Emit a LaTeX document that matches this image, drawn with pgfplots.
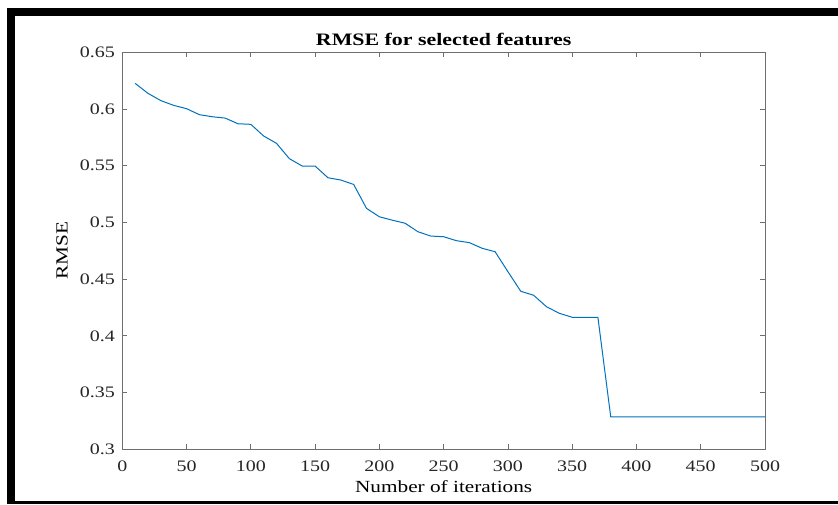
\documentclass[border=0pt]{standalone}
\usepackage{pgfplots}
\pgfplotsset{compat=1.18}
\usepackage{fontspec}
\setmainfont[FakeStretch=1.25]{Liberation Serif}
\definecolor{mblue}{rgb}{0,0.447,0.741}
\definecolor{axgray}{RGB}{110,110,110}
\begin{document}
\begin{tikzpicture}
\useasboundingbox (0,0) rectangle (838pt,504pt);
\fill[white] (0,0) rectangle (838pt,504pt);
\begin{axis}[
  at={(122.3pt,54.7pt)}, anchor=south west,
  scale only axis, width=642.7pt, height=397pt,
  xmin=0, xmax=500, ymin=0.3, ymax=0.65,
  xtick={0,50,...,500},
  ytick={0.3,0.35,0.4,0.45,0.5,0.55,0.6,0.65},
  yticklabels={0.3,0.35,0.4,0.45,0.5,0.55,0.6,0.65},
  tick align=inside, major tick length=5pt,
  axis line style={axgray, line width=0.8pt},
  every tick/.style={axgray, line width=0.8pt},
  /pgf/number format/assume math mode=true,
  ticklabel style={font=\fontsize{16}{18}\selectfont, text=black!85},
  xticklabel style={yshift=-8pt},
  yticklabel style={xshift=-4pt},
  title={RMSE for selected features},
  title style={font=\fontsize{17.5}{20}\selectfont\bfseries, yshift=-3pt},
  xlabel={Number of iterations},
  xlabel style={font=\fontsize{17}{19}\selectfont, yshift=-2pt},
  ylabel={RMSE},
  ylabel style={font=\fontsize{17}{19}\selectfont, yshift=5pt},
]
\addplot[mblue, line width=1pt] coordinates {
(10,0.6226) (20,0.6138) (30,0.6074) (40,0.6032) (50,0.6003)
(60,0.5950) (70,0.5932) (80,0.5920) (90,0.5870) (100,0.5865)
(110,0.5762) (120,0.5697) (130,0.5562) (140,0.5497) (150,0.5497)
(160,0.5394) (170,0.5374) (180,0.5335) (190,0.5124) (200,0.5050)
(210,0.5020) (220,0.4993) (230,0.4918) (240,0.4880) (250,0.4874)
(260,0.4839) (270,0.4822) (280,0.4772) (290,0.4742) (300,0.4566)
(310,0.4393) (320,0.4358) (330,0.4257) (340,0.4199) (350,0.4164)
(360,0.4164) (370,0.4164) (380,0.3285) (390,0.3285) (400,0.3285)
(410,0.3285) (420,0.3285) (430,0.3285) (440,0.3285) (450,0.3285)
(460,0.3285) (470,0.3285) (480,0.3285) (490,0.3285) (500,0.3285)
};
\end{axis}
\fill[black] (7pt,488pt) rectangle (838pt,496pt);
\fill[black] (7pt,0.5pt) rectangle (15pt,496pt);
\fill[black] (7pt,0.5pt) rectangle (838pt,3pt);
\end{tikzpicture}
\end{document}
